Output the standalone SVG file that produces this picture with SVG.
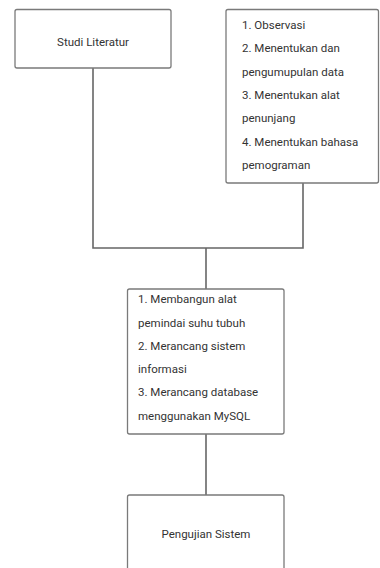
<svg xmlns="http://www.w3.org/2000/svg" width="380" height="568" viewBox="0 0 380 568">
<style>
.box{fill:#fff;stroke:#7a7a7a;stroke-width:1.3}
.t{font-family:Roboto,"Liberation Sans",sans-serif;font-size:11.5px;fill:#333}
.c{text-anchor:middle}
.ln{fill:none;stroke:#666;stroke-width:1.6}
</style>
<rect width="380" height="568" fill="#fff"/>
<g id="connectors">
<polyline class="ln" points="93,68 93,248 303,248 303,183"/>
<line class="ln" x1="206" y1="248" x2="206" y2="289"/>
<line class="ln" x1="206" y1="434" x2="206" y2="495"/>
</g>
<g id="studi">
<rect class="box" x="15" y="9.5" width="156" height="58.5" rx="2"/>
<text class="t c" x="93" y="46">Studi Literatur</text>
</g>
<g id="tahap1">
<rect class="box" x="226" y="9.5" width="152.5" height="173.5" rx="2"/>
<text class="t" x="242" y="29">1. Observasi</text>
<text class="t" x="242" y="52.3">2. Menentukan dan</text>
<text class="t" x="242" y="75.6">pengumupulan data</text>
<text class="t" x="242" y="98.9">3. Menentukan alat</text>
<text class="t" x="242" y="122.2">penunjang</text>
<text class="t" x="242" y="145.5">4. Menentukan bahasa</text>
<text class="t" x="242" y="168.8">pemograman</text>
</g>
<g id="tahap2">
<rect class="box" x="127.5" y="289" width="156.5" height="145" rx="2"/>
<text class="t" x="138" y="303">1. Membangun alat</text>
<text class="t" x="138" y="326.5">pemindai suhu tubuh</text>
<text class="t" x="138" y="350">2. Merancang sistem</text>
<text class="t" x="138" y="373">informasi</text>
<text class="t" x="138" y="396.3">3. Merancang database</text>
<text class="t" x="138" y="420">menggunakan MySQL</text>
</g>
<g id="pengujian">
<rect class="box" x="127.5" y="495" width="156.5" height="90" rx="2"/>
<text class="t c" x="206" y="538">Pengujian Sistem</text>
</g>
</svg>
